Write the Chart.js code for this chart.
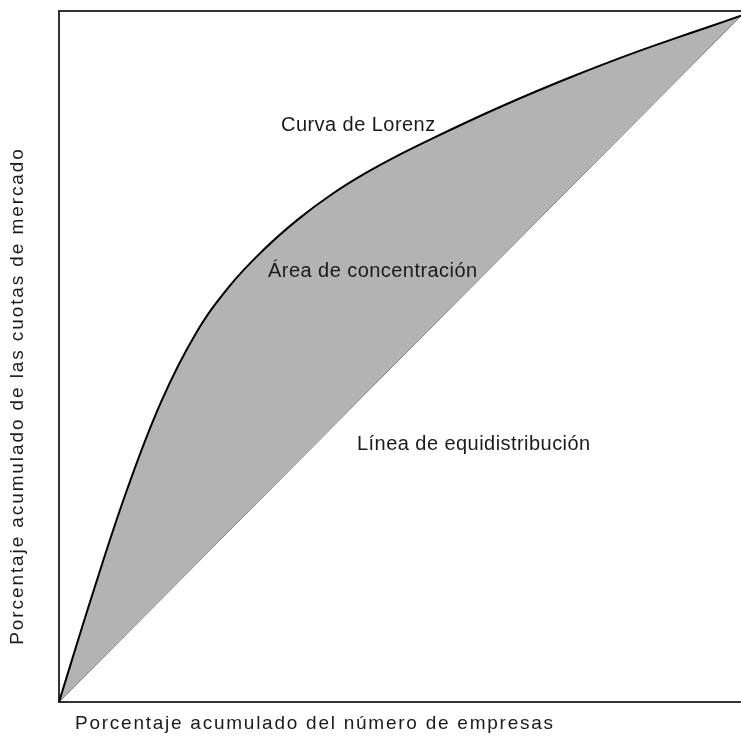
<!DOCTYPE html>
<html>
<head>
<meta charset="utf-8">
<script src="https://cdn.jsdelivr.net/npm/chart.js@4.4.1/dist/chart.umd.min.js"></script>
<style>
  html, body { margin: 0; padding: 0; background: #fff; overflow: hidden; }
  canvas { display: block; }
</style>
</head>
<body>
<canvas id="grafico" width="741" height="736"></canvas>
<script>
// Porcentaje acumulado de empresas (eje x) y cuotas de mercado (eje y)
const empresas = [0, 5, 10, 15, 20, 25, 30, 35, 40, 45, 50, 55, 60, 65, 70, 75, 80, 85, 90, 95, 100];
const cuotasLorenz = [0, 16, 31, 43.8, 53.6, 60.6, 65.9, 70.3, 74, 77.1, 79.8, 82.25, 84.6, 86.85, 89, 91.05, 93, 94.85, 96.6, 98.3, 100];

// Línea de equidistribución (diagonal)
const equiX = [0, 100];
const equiY = [0, 100];

// Rótulos
const tituloX = 'Porcentaje acumulado del número de empresas';
const tituloY = 'Porcentaje acumulado de las cuotas de mercado';
const etiquetas = [
    { texto: 'Curva de Lorenz', x: 281, y: 131 },
    { texto: 'Área de concentración', x: 268, y: 277 },
    { texto: 'Línea de equidistribución', x: 357, y: 450 }
];

const fuente = '"Liberation Sans", Arial, sans-serif';

// Dibuja el marco superior y los textos
const textosPlugin = {
    id: 'textos',
    afterDatasetsDraw(chart) {
        const { ctx, chartArea } = chart;
        ctx.save();
        ctx.strokeStyle = '#333';
        ctx.lineWidth = 2;
        ctx.beginPath();
        ctx.moveTo(chartArea.left - 1, chartArea.top);
        ctx.lineTo(chart.width, chartArea.top);
        ctx.stroke();

        ctx.fillStyle = '#1a1a1a';
        ctx.font = '20px ' + fuente;
        ctx.letterSpacing = '0.45px';
        ctx.textAlign = 'left';
        ctx.textBaseline = 'alphabetic';
        etiquetas.forEach(e => ctx.fillText(e.texto, e.x, e.y));

        ctx.font = '19px ' + fuente;
        ctx.letterSpacing = '1.75px';
        ctx.fillText(tituloX, 75, 729);

        ctx.letterSpacing = '1.9px';
        ctx.translate(23, 396);
        ctx.rotate(-Math.PI / 2);
        ctx.textAlign = 'center';
        ctx.fillText(tituloY, 0, 0);
        ctx.restore();
    }
};

const ctx = document.getElementById('grafico').getContext('2d');

new Chart(ctx, {
    type: 'line',
    data: {
        datasets: [
            {
                label: 'Curva de Lorenz',
                data: empresas.map((x, i) => ({ x: x, y: cuotasLorenz[i] })),
                borderColor: '#000',
                borderWidth: 2,
                backgroundColor: '#b3b3b3',
                fill: '+1',
                pointRadius: 0,
                tension: 0.4
            },
            {
                label: 'Línea de equidistribución',
                data: equiX.map((x, i) => ({ x: x, y: equiY[i] })),
                borderColor: '#555',
                borderWidth: 1,
                fill: false,
                pointRadius: 0
            }
        ]
    },
    options: {
        responsive: false,
        animation: false,
        layout: { padding: { left: 59, top: 11, right: 0, bottom: 34 } },
        plugins: {
            legend: { display: false },
            tooltip: { enabled: false }
        },
        scales: {
            x: {
                type: 'linear',
                min: 0,
                max: 100,
                grid: { display: false, drawTicks: false },
                ticks: { display: false },
                border: { display: true, color: '#333', width: 2 }
            },
            y: {
                min: 0,
                max: 100.7,
                grid: { display: false, drawTicks: false },
                ticks: { display: false },
                border: { display: true, color: '#333', width: 2 }
            }
        }
    },
    plugins: [textosPlugin]
});
</script>
</body>
</html>
